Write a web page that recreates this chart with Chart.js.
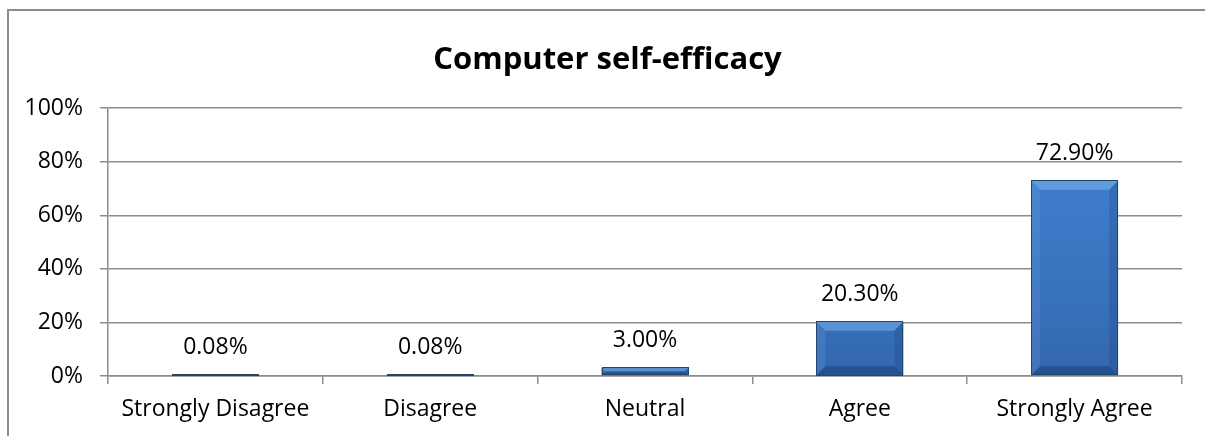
<!DOCTYPE html>
<html>
<head>
<meta charset="utf-8">
<script src="https://cdn.jsdelivr.net/npm/chart.js@4.4.0/dist/chart.umd.min.js"></script>
<style>
  html, body { margin: 0; padding: 0; background: #fff; overflow: hidden; }
  #chart { display: block; }
</style>
</head>
<body>
<canvas id="chart" width="1205" height="436"></canvas>
<script>
const titleText = 'Computer self-efficacy';
const categories = ['Strongly Disagree', 'Disagree', 'Neutral', 'Agree', 'Strongly Agree'];
const values = [0.08, 0.08, 3.00, 20.30, 72.90];
const yTicks = [0, 20, 40, 60, 80, 100];

const FONT = '"Open Sans", Lato, sans-serif';

// outer chart frame (only top and left edges fall inside the picture)
const frame = {
  id: 'frame',
  beforeDraw(chart) {
    const ctx = chart.ctx;
    ctx.save();
    ctx.strokeStyle = '#8c8c8c';
    ctx.lineWidth = 2;
    ctx.beginPath();
    ctx.moveTo(8, chart.height + 5);
    ctx.lineTo(8, 10);
    ctx.lineTo(chart.width + 5, 10);
    ctx.stroke();
    ctx.restore();
  }
};

// bevelled blue bars + value labels on top
const bevelBars = {
  id: 'bevelBars',
  afterDatasetsDraw(chart) {
    const ctx = chart.ctx;
    const meta = chart.getDatasetMeta(0);
    meta.data.forEach((bar, i) => {
      const left = bar.x - bar.width / 2;
      const right = bar.x + bar.width / 2;
      const top = Math.min(bar.y, bar.base);
      const bottom = Math.max(bar.y, bar.base);
      const h = bottom - top;
      const b = Math.min(9, h / 2, bar.width / 2);
      ctx.save();
      if (h > 2) {
        // top bevel
        ctx.fillStyle = 'rgba(140,190,245,0.45)';
        ctx.beginPath();
        ctx.moveTo(left, top); ctx.lineTo(right, top);
        ctx.lineTo(right - b, top + b); ctx.lineTo(left + b, top + b);
        ctx.closePath(); ctx.fill();
        // left bevel
        ctx.fillStyle = 'rgba(120,170,230,0.2)';
        ctx.beginPath();
        ctx.moveTo(left, top); ctx.lineTo(left + b, top + b);
        ctx.lineTo(left + b, bottom - b); ctx.lineTo(left, bottom);
        ctx.closePath(); ctx.fill();
        // right bevel
        ctx.fillStyle = 'rgba(20,50,100,0.2)';
        ctx.beginPath();
        ctx.moveTo(right, top); ctx.lineTo(right - b, top + b);
        ctx.lineTo(right - b, bottom - b); ctx.lineTo(right, bottom);
        ctx.closePath(); ctx.fill();
        // bottom bevel
        ctx.fillStyle = 'rgba(15,40,85,0.35)';
        ctx.beginPath();
        ctx.moveTo(left, bottom); ctx.lineTo(right, bottom);
        ctx.lineTo(right - b, bottom - b); ctx.lineTo(left + b, bottom - b);
        ctx.closePath(); ctx.fill();
      }
      ctx.strokeStyle = '#23466f';
      ctx.lineWidth = 1;
      ctx.strokeRect(Math.round(left) + 0.5, Math.round(top) - 0.5, Math.round(bar.width) - 1, Math.max(1, Math.round(h)));
      // value label
      ctx.fillStyle = '#000';
      ctx.font = '23px ' + FONT;
      ctx.textAlign = 'center';
      ctx.textBaseline = 'alphabetic';
      ctx.fillText(values[i].toFixed(2) + '%', bar.x, top - 21);
      ctx.restore();
    });
  }
};

new Chart(document.getElementById('chart').getContext('2d'), {
  type: 'bar',
  data: {
    labels: categories,
    datasets: [{
      data: values,
      backgroundColor: (c) => {
        const area = c.chart.chartArea;
        if (!area) return '#3a78c4';
        const g = c.chart.ctx.createLinearGradient(0, area.top, 0, area.bottom);
        g.addColorStop(0, '#4385d6');
        g.addColorStop(1, '#3368b0');
        return g;
      },
      borderWidth: 0,
      barPercentage: 0.405,
      categoryPercentage: 1.0
    }]
  },
  options: {
    responsive: false,
    animation: false,
    layout: { padding: { left: 10, right: 0, top: 0, bottom: 0 } },
    plugins: {
      legend: { display: false },
      tooltip: { enabled: false },
      title: {
        display: true,
        text: titleText,
        color: '#000',
        font: { family: FONT, size: 31, weight: 'bold' },
        padding: { top: 42, bottom: 29 }
      }
    },
    scales: {
      x: {
        offset: true,
        grid: { offset: true, drawOnChartArea: false, color: '#8c8c8c', lineWidth: 1.5, tickLength: 8 },
        border: { color: '#8c8c8c', width: 1.5 },
        ticks: { color: '#000', font: { family: FONT, size: 23 }, padding: 12, maxRotation: 0, autoSkip: false },
        afterFit: (s) => { s.height = 60; }
      },
      y: {
        min: 0,
        max: 100,
        afterBuildTicks: (s) => { s.ticks = yTicks.map(v => ({ value: v })); },
        grid: { color: '#8c8c8c', lineWidth: 1.5, tickLength: 8 },
        border: { color: '#8c8c8c', width: 1.5 },
        ticks: { color: '#000', font: { family: FONT, size: 23 }, padding: 17, callback: (v) => v + '%' },
        afterFit: (s) => { s.width = 98; }
      },
      // empty right-hand strip so the plot ends where the reference's does
      yRight: {
        position: 'right',
        display: true,
        min: 0,
        max: 100,
        grid: { display: false },
        border: { display: false },
        ticks: { display: false },
        afterFit: (s) => { s.width = 23; }
      }
    }
  },
  plugins: [frame, bevelBars]
});
</script>
</body>
</html>
